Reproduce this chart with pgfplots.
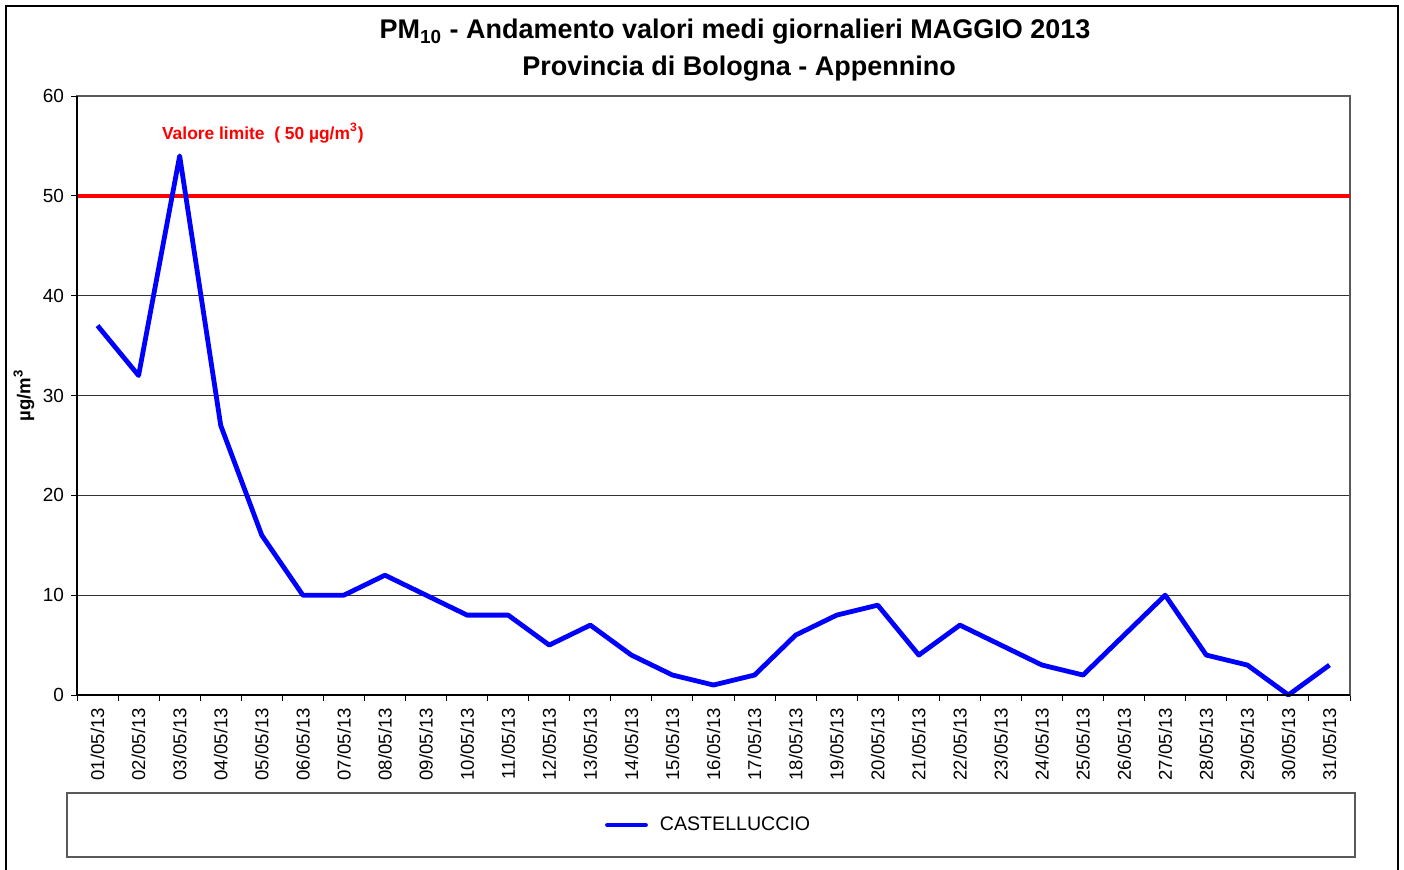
\documentclass[border=0pt]{standalone}
\usepackage{fontspec}
\setmainfont{Liberation Sans}
\usepackage{pgfplots}
\pgfplotsset{compat=1.18}
\begin{document}
\begin{tikzpicture}
\useasboundingbox (0pt,0pt) rectangle (702pt,434.5pt);
\begin{scope}[x=0.5pt,y=0.5pt]
\draw[black, line width=0.6pt] (6,-10) -- (6,863) -- (1398,863) -- (1398,-10);
\draw[gray!70!black, line width=0.6pt] (67,12) rectangle (1355,76);
\node[font=\bfseries\fontsize{13.5}{15}\selectfont] at (735,837) {PM\textsubscript{10} - Andamento valori medi giornalieri MAGGIO 2013};
\node[font=\bfseries\fontsize{13.5}{15}\selectfont] at (739,800) {Provincia di Bologna - Appennino};
\end{scope}
\begin{axis}[
  at={(38.5pt,87pt)}, anchor=south west,
  scale only axis, width=636.5pt, height=299.5pt,
  xmin=0.5, xmax=31.5, ymin=0, ymax=60,
  ytick={0,10,...,60},
  ymajorgrids, grid style={black!80, line width=0.4pt},
  axis line style={gray!70!black, line width=0.6pt},
  xtick={1,...,31},
  xticklabels={01/05/13,02/05/13,03/05/13,04/05/13,05/05/13,06/05/13,07/05/13,08/05/13,09/05/13,10/05/13,11/05/13,12/05/13,13/05/13,14/05/13,15/05/13,16/05/13,17/05/13,18/05/13,19/05/13,20/05/13,21/05/13,22/05/13,23/05/13,24/05/13,25/05/13,26/05/13,27/05/13,28/05/13,29/05/13,30/05/13,31/05/13},
  x tick label style={rotate=90, anchor=east, font=\fontsize{9.3}{10}\selectfont},
  y tick label style={font=\fontsize{9.5}{10}\selectfont},
  minor xtick={0.5,1.5,...,31.5},
  major x tick style={draw=none},
  minor tick length=3pt, major tick length=3pt,
  tick align=outside, tick pos=left,
  tick style={black, line width=0.5pt},
  /pgf/number format/assume math mode=true,
  ylabel={µg/m\textsuperscript{3}},
  ylabel style={font=\bfseries\fontsize{9.3}{10}\selectfont, at={(axis description cs:-0.028,0.5)}, anchor=south},
  legend style={at={(axis description cs:0.497,-0.217)}, anchor=center, draw=none, fill=none, font=\fontsize{9.8}{11}\selectfont},
  legend image code/.code={\draw[#1, line cap=round] (0pt,0pt) -- (19pt,0pt); \path (23pt,0pt);},
  clip=false,
]
\addplot[red, line width=1.7pt, forget plot] coordinates {(0.5,50) (31.5,50)};
\addplot[blue, line width=2.4pt, line join=round] coordinates {
(1,37) (2,32) (3,54) (4,27) (5,16) (6,10) (7,10) (8,12) (9,10) (10,8)
(11,8) (12,5) (13,7) (14,4) (15,2) (16,1) (17,2) (18,6) (19,8) (20,9)
(21,4) (22,7) (23,5) (24,3) (25,2) (26,6) (27,10) (28,4) (29,3) (30,0) (31,3)};
\addlegendentry{CASTELLUCCIO}
\draw[black, line width=0.6pt] (rel axis cs:0,1) -- (rel axis cs:0,0) -- (rel axis cs:1,0);
\node[anchor=west, text=red, font=\bfseries\fontsize{8.7}{10}\selectfont] at (axis cs:2.40,56.3) {Valore limite\ \ ( 50 µg/m\textsuperscript{3})};
\end{axis}
\end{tikzpicture}
\end{document}
